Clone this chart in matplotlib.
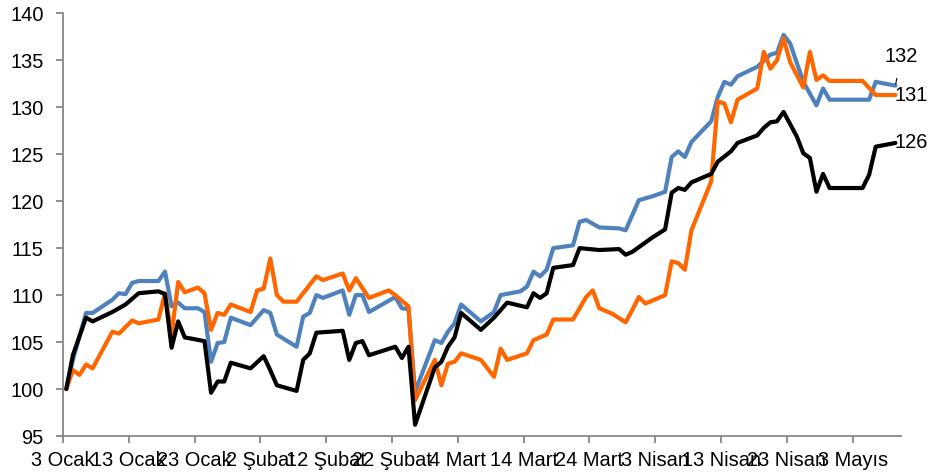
import numpy as np
import matplotlib
matplotlib.use('Agg')
import matplotlib.pyplot as plt

# gun: 3 Ocak'tan itibaren gecen gun sayisi
gun_siyah = [0, 1, 3, 4, 7, 9, 11, 14, 15, 16, 17, 18, 21, 22, 23, 24, 25, 28, 30, 31,
             32, 35, 36, 37, 38, 42, 43, 44, 45, 46, 50, 51, 52, 53, 56, 57, 58, 59, 60, 63,
             65, 67, 70, 71, 72, 73, 74, 77, 78, 81, 84, 85, 86, 89, 91, 92, 93, 94, 95, 98,
             99, 101, 102, 105, 106, 107, 108, 109, 111, 112, 113, 114, 115, 116, 121, 122, 123, 126]
siyah = [100.0, 103.6, 107.6, 107.2, 108.2, 109.0, 110.2, 110.4, 110.1, 104.4, 107.2, 105.5, 105.1, 99.6,
         100.8, 100.8, 102.8, 102.2, 103.5, 102.0, 100.4, 99.8, 103.1, 103.8, 106.0, 106.2, 103.1, 104.9,
         105.1, 103.6, 104.5, 103.3, 104.5, 96.2, 102.3, 102.9, 104.5, 105.5, 108.1, 106.3, 107.6, 109.2,
         108.7, 110.2, 109.7, 110.2, 112.9, 113.2, 115.0, 114.8, 114.9, 114.3, 114.6, 116.1, 117.0, 120.9,
         121.4, 121.2, 122.0, 122.9, 124.2, 125.3, 126.2, 127.0, 127.8, 128.4, 128.5, 129.5, 126.9, 125.1,
         124.6, 121.0, 122.9, 121.4, 121.4, 122.8, 125.8, 126.2]

gun_mavi = [0, 1, 3, 4, 7, 8, 9, 10, 11, 14, 15, 16, 17, 18, 20, 21, 22, 23, 24, 25, 28, 30, 31, 32, 35,
            36, 37, 38, 39, 42, 43, 44, 45, 46, 50, 51, 52, 53, 56, 57, 58, 59, 60, 63, 65, 66, 69, 70,
            71, 72, 73, 74, 77, 78, 79, 81, 84, 85, 87, 89, 91, 92, 93, 94, 95, 98, 99, 100, 101, 102,
            105, 107, 108, 109, 110, 112, 114, 115, 116, 122, 123, 126]
mavi = [100.0, 103.1, 108.1, 108.1, 109.5, 110.2, 110.1, 111.3, 111.5, 111.5, 112.5, 108.8, 109.2, 108.6,
        108.6, 108.2, 102.9, 104.9, 105.0, 107.6, 106.8, 108.4, 108.1, 105.8, 104.5, 107.7, 108.1, 110.0,
        109.7, 110.5, 107.9, 110.0, 110.0, 108.2, 109.8, 108.6, 108.5, 99.7, 105.2, 104.9, 106.1, 107.0,
        109.0, 107.2, 108.2, 110.0, 110.4, 110.9, 112.5, 112.0, 112.7, 115.0, 115.3, 117.8, 118.0, 117.2,
        117.1, 116.9, 120.1, 120.5, 121.0, 124.7, 125.3, 124.7, 126.3, 128.5, 131.1, 132.7, 132.4, 133.3,
        134.3, 135.6, 135.8, 137.7, 136.8, 132.7, 130.2, 132.0, 130.8, 130.8, 132.7, 132.3]

gun_turuncu = [0, 1, 2, 3, 4, 7, 8, 10, 11, 14, 15, 16, 17, 18, 20, 21, 22, 23, 24, 25, 28, 29, 30, 31,
               32, 33, 35, 36, 38, 39, 42, 43, 44, 46, 49, 50, 52, 53, 56, 57, 58, 59, 60, 63, 65, 66,
               67, 70, 71, 73, 74, 77, 79, 80, 81, 83, 85, 86, 87, 88, 91, 92, 93, 94, 95, 98, 99, 100,
               101, 102, 105, 106, 107, 108, 109, 110, 112, 113, 114, 115, 116, 121, 123, 126]
turuncu = [100.0, 102.0, 101.5, 102.6, 102.2, 106.1, 105.9, 107.3, 107.0, 107.4, 110.2, 105.8, 111.4,
           110.3, 110.8, 110.2, 106.3, 108.1, 107.9, 109.0, 108.2, 110.5, 110.7, 113.9, 110.0, 109.3,
           109.3, 110.2, 112.0, 111.6, 112.3, 110.5, 111.8, 109.7, 110.5, 110.0, 108.8, 98.8, 103.1,
           100.4, 102.7, 102.9, 103.8, 103.1, 101.3, 104.3, 103.1, 103.8, 105.2, 105.8, 107.4, 107.4,
           109.8, 110.5, 108.6, 108.0, 107.1, 108.4, 109.8, 109.1, 110.0, 113.6, 113.4, 112.7, 116.9,
           122.1, 130.6, 130.4, 128.4, 130.8, 132.0, 135.9, 134.1, 135.0, 137.3, 134.8, 132.1, 135.9,
           132.9, 133.4, 132.8, 132.8, 131.3, 131.3]

etiketler = ['3 Ocak', '13 Ocak', '23 Ocak', '2 Şubat', '12 Şubat', '22 Şubat', '4 Mart',
             '14 Mart', '24 Mart', '3 Nisan', '13 Nisan', '23 Nisan', '3 Mayıs']

plt.rcParams['font.family'] = ['Liberation Sans', 'DejaVu Sans']
plt.rcParams['font.size'] = 14.4

fig = plt.figure(figsize=(9.3, 4.76), dpi=100)
ax = fig.add_axes([63 / 930, 40 / 476, (900.7 - 63) / 930, (462.7 - 40) / 476])

gri = '#868686'
ax.plot(gun_mavi, mavi, color='#4F81BD', lw=3, solid_joinstyle='round', solid_capstyle='round')
ax.plot(gun_turuncu, turuncu, color='#FF6600', lw=3, solid_joinstyle='round', solid_capstyle='round')
ax.plot(gun_siyah, siyah, color='black', lw=3, solid_joinstyle='round', solid_capstyle='round')

# son degerler
ax.annotate(f'{round(mavi[-1])}', xy=(gun_mavi[-1], mavi[-1]), xytext=(4, 21),
            textcoords='offset points', ha='center', va='center',
            arrowprops=dict(arrowstyle='-', color='black', lw=0.8, shrinkA=7, shrinkB=1))
ax.annotate(f'{round(turuncu[-1])}', xy=(gun_turuncu[-1], turuncu[-1]), xytext=(-1, 0),
            textcoords='offset points', ha='left', va='center')
ax.annotate(f'{round(siyah[-1])}', xy=(gun_siyah[-1], siyah[-1]), xytext=(-1, 0),
            textcoords='offset points', ha='left', va='center')

ax.set_xlim(-0.5, 126.8)
ax.set_ylim(95, 140)
ax.set_yticks(np.arange(95, 141, 5))
ax.set_xticks(np.arange(len(etiketler)) * 10 - 0.5)
ax.set_xticklabels(etiketler)

for s in ['top', 'right']:
    ax.spines[s].set_visible(False)
for s in ['left', 'bottom']:
    ax.spines[s].set_color(gri)
    ax.spines[s].set_linewidth(1.3)
ax.tick_params(axis='both', direction='out', color=gri, width=1.3, length=5)
ax.tick_params(axis='y', pad=9)
ax.tick_params(axis='x', pad=6)

plt.savefig('out.png', dpi=100)
